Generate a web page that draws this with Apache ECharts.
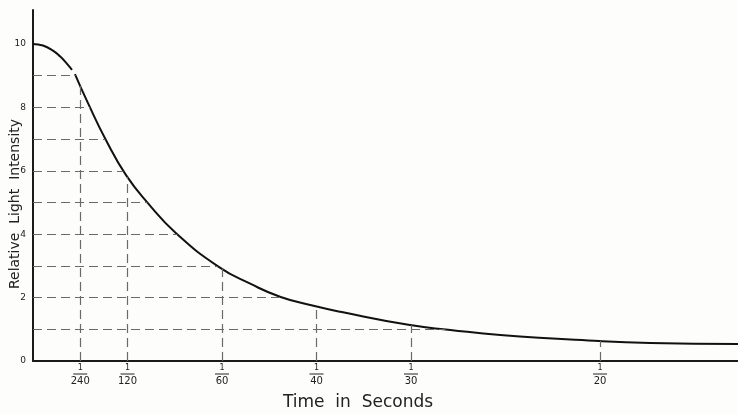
<!DOCTYPE html>
<html>
<head>
<meta charset="utf-8">
<script src="https://cdn.jsdelivr.net/npm/echarts@6/dist/echarts.min.js"></script>
<style>
html,body{margin:0;padding:0;background:#fdfdfb;}
#chart{width:738px;height:414px;}
</style>
</head>
<body>
<div id="chart"></div>
<script>
// Time tick positions (seconds) and their fraction denominators
const timeTicks = [1/240, 1/120, 1/60, 1/40, 1/30, 1/20];
const tickDenoms = ['240', '120', '60', '40', '30', '20'];
// Y-axis tick labels
const yTicks = [0, 2, 4, 6, 8, 10];
// Horizontal dashed reference levels
const gridLevels = [1, 2, 3, 4, 5, 6, 7, 8, 9];
// Curve (time in seconds, relative light intensity); null = pen gap
const curveT = [0, 0.00088, 0.00176, 0.00238, 0.00291, 0.00344, null, 0.0037, 0.00484, 0.00643, 0.00819, 0.01013, 0.01259, 0.01638, 0.0192, 0.02184, 0.02474, 0.02712, 0.03311, 0.03681, 0.04121, 0.04993, 0.05442, 0.06217];
const curveV = [10, 9.95, 9.79, 9.61, 9.41, 9.18, null, 9.05, 8.14, 6.97, 5.87, 4.98, 4.04, 2.97, 2.43, 2.02, 1.74, 1.55, 1.14, 0.98, 0.82, 0.63, 0.57, 0.54];

const xMax = 0.06217;
const yMax = 11.07;

function valueAt(t) {
  for (let i = 0; i < curveT.length - 1; i++) {
    const a = curveT[i], b = curveT[i + 1];
    if (a === null || b === null) continue;
    if (t >= a && t <= b) {
      return curveV[i] + (curveV[i + 1] - curveV[i]) * (t - a) / (b - a);
    }
  }
  return null;
}
function timeAt(v) {
  for (let i = 0; i < curveV.length - 1; i++) {
    const a = curveV[i], b = curveV[i + 1];
    if (a === null || b === null) continue;
    if (v <= a && v >= b) {
      return curveT[i] + (curveT[i + 1] - curveT[i]) * (a - v) / (a - b);
    }
  }
  return null;
}

const curveData = curveT.map((t, i) => t === null ? [null, null] : [t, curveV[i]]);
const dashData = [];
gridLevels.forEach(v => {
  dashData.push([{ coord: [0, v] }, { coord: [timeAt(v), v] }]);
});
timeTicks.forEach(t => {
  dashData.push([{ coord: [t, 0] }, { coord: [t, valueAt(t)] }]);
});

const chart = echarts.init(document.getElementById('chart'), null, { renderer: 'canvas' });
chart.setOption({
  backgroundColor: '#fdfdfb',
  animation: false,
  grid: { left: 33, right: 0, top: 10, bottom: 53, containLabel: false, outerBoundsMode: 'none' },
  xAxis: {
    type: 'value',
    min: 0,
    max: xMax,
    name: 'Time  in  Seconds',
    nameLocation: 'middle',
    nameGap: 33,
    nameMoveOverlap: false,
    nameTextStyle: { fontFamily: 'DejaVu Sans', fontSize: 17, color: '#222', padding: [0, 55, 0, 0] },
    axisLine: { lineStyle: { color: '#1a1a1a', width: 2 } },
    axisTick: { show: false },
    splitLine: { show: false },
    axisLabel: {
      customValues: timeTicks,
      margin: 3,
      color: '#222',
      fontFamily: 'DejaVu Sans',
      formatter: function (val) {
        let i = -1;
        timeTicks.forEach((t, k) => { if (Math.abs(t - val) < 1e-9) i = k; });
        if (i < 0) return '';
        return '{n|1}\n{bar| }\n{d|' + tickDenoms[i] + '}';
      },
      rich: {
        n: { fontSize: 8, lineHeight: 8, color: '#222', fontFamily: 'DejaVu Sans', align: 'center' },
        bar: { width: 14, height: 1, lineHeight: 4, fontSize: 2, backgroundColor: '#222', align: 'center' },
        d: { fontSize: 10, lineHeight: 11, color: '#222', fontFamily: 'DejaVu Sans', align: 'center' }
      }
    }
  },
  yAxis: {
    type: 'value',
    min: 0,
    max: yMax,
    name: 'Relative  Light  Intensity',
    nameLocation: 'middle',
    nameGap: 11,
    nameMoveOverlap: false,
    nameTextStyle: { fontFamily: 'DejaVu Sans', fontSize: 14, color: '#222', padding: [0, 37, 0, 0] },
    axisLine: { show: true, lineStyle: { color: '#1a1a1a', width: 2 } },
    axisTick: { show: false },
    splitLine: { show: false },
    axisLabel: {
      customValues: yTicks,
      margin: 7,
      fontSize: 9,
      color: '#222',
      fontFamily: 'DejaVu Sans'
    }
  },
  series: [{
    type: 'line',
    data: curveData,
    showSymbol: false,
    connectNulls: false,
    smooth: 0.5,
    lineStyle: { color: '#111', width: 2 },
    markLine: {
      silent: true,
      symbol: ['none', 'none'],
      label: { show: false },
      lineStyle: { color: '#6b6b66', width: 1.2, type: [9, 5] },
      data: dashData
    }
  }]
});
</script>
</body>
</html>
